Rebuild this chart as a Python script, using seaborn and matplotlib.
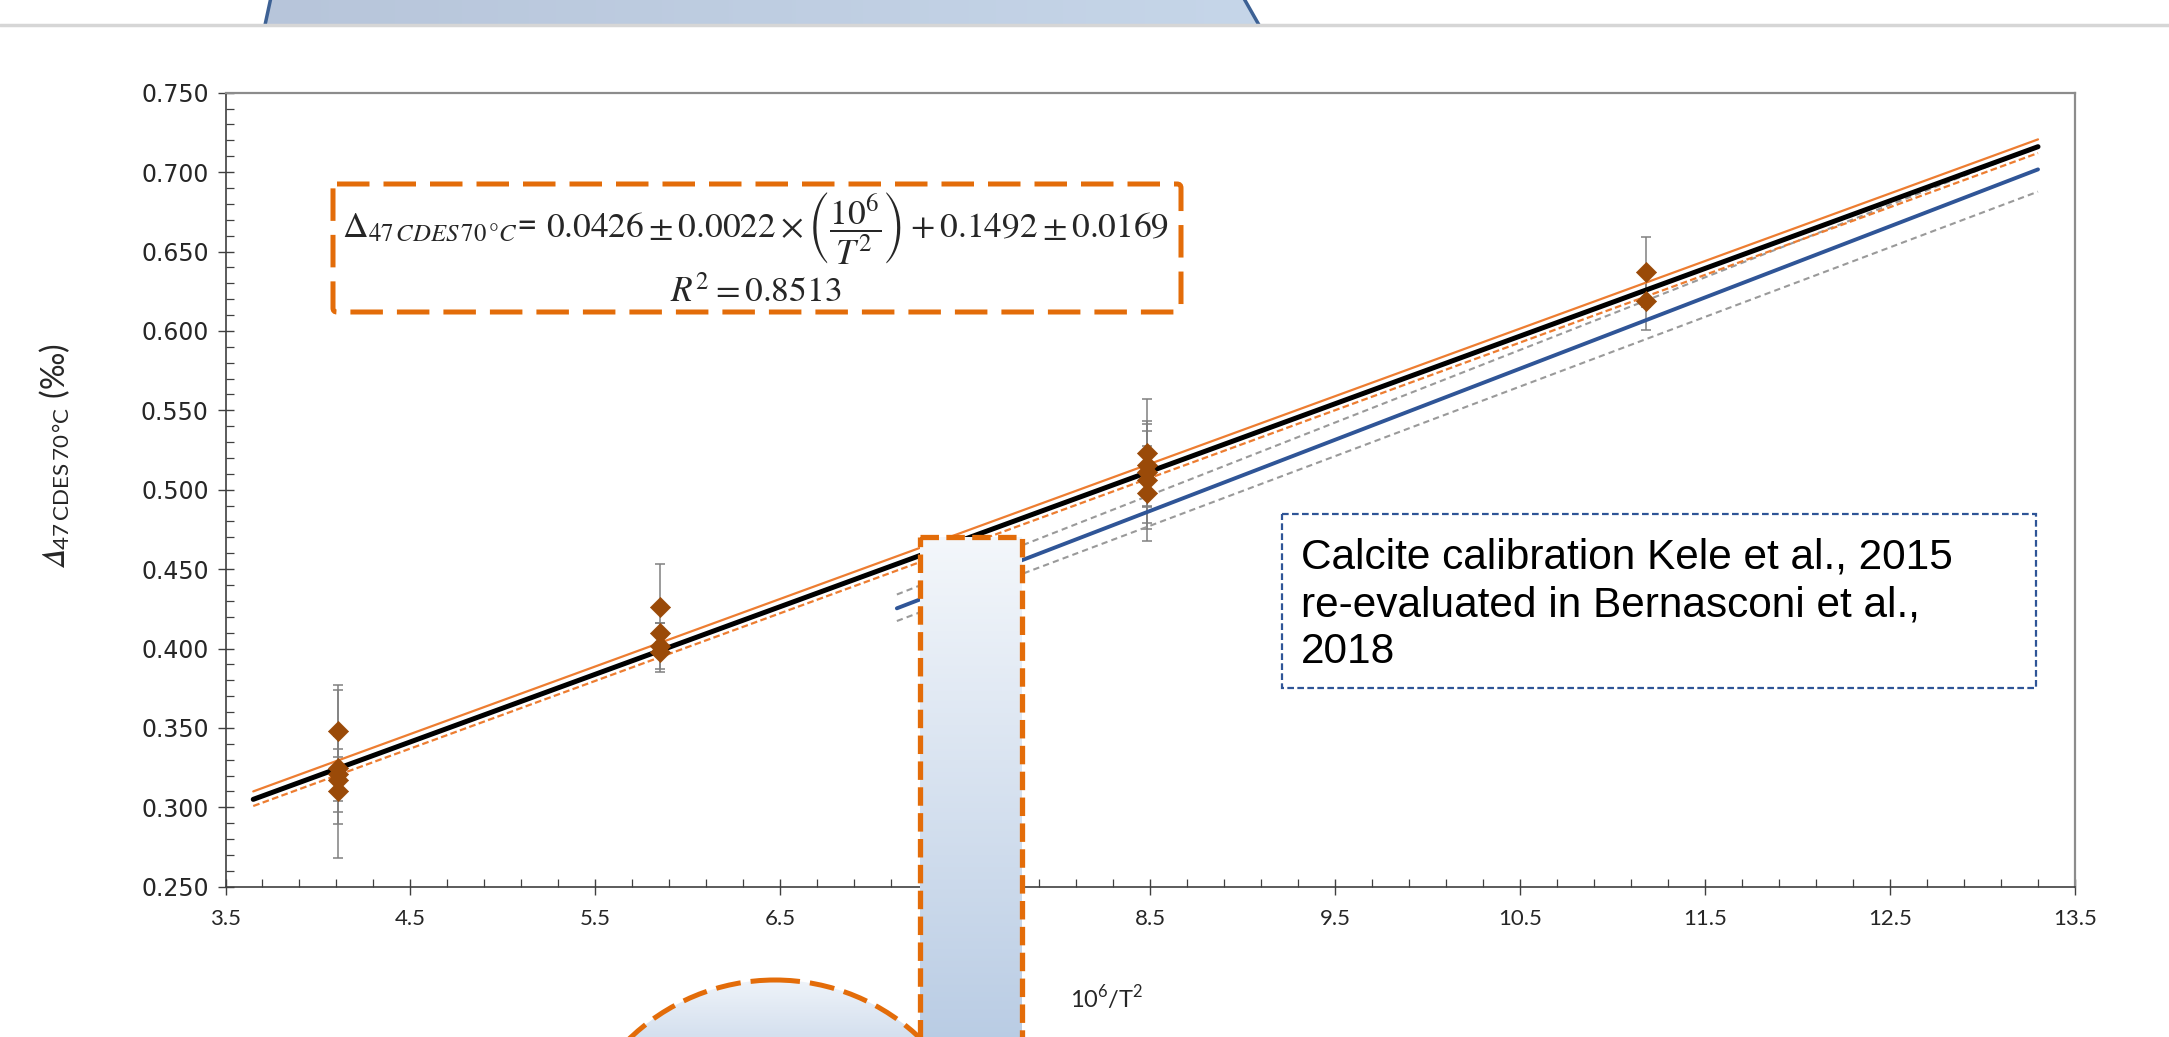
import numpy as np
import matplotlib
matplotlib.use("Agg")
import matplotlib.pyplot as plt
import matplotlib.colors as mcolors
from matplotlib.patches import Rectangle, FancyBboxPatch, Polygon, Circle
from matplotlib.ticker import FixedLocator, MultipleLocator, FormatStrFormatter
import seaborn as sns

# ---- measured samples (10^6/T^2 vs Δ47 CDES 70 °C) ----
x_samples = [4.11, 4.11, 4.11, 4.11, 4.11,
             5.85, 5.85, 5.85, 5.85,
             8.48, 8.48, 8.48, 8.48, 8.48,
             11.18, 11.18]
d47_samples = [0.348, 0.3245, 0.321, 0.317, 0.3105,
               0.4263, 0.410, 0.4016, 0.398,
               0.5233, 0.5155, 0.5113, 0.5061, 0.4977,
               0.6373, 0.6188]
d47_err = [0.029, 0.0205, 0.053, 0.020, 0.021,
           0.027, 0.006, 0.0145, 0.013,
           0.034, 0.026, 0.032, 0.031, 0.030,
           0.022, 0.018]

# ---- regression of this study and its confidence band ----
fit_x = [3.65, 13.3]
fit_y = [0.305, 0.716]
fit_upper_y = [0.310, 0.7206]
fit_lower_y = [0.3008, 0.712]

# ---- Kele et al. 2015 calcite calibration and its band ----
kele_x = [7.13, 13.3]
kele_y = [0.4253, 0.7017]
kele_upper_y = [0.434, 0.716]
kele_lower_y = [0.4173, 0.6877]

x_major = [3.5, 4.5, 5.5, 6.5, 7.5, 8.5, 9.5, 10.5, 11.5, 12.5, 13.5]

W, H = 2169, 1037
sns.set_theme(style="white")
plt.rcParams["font.family"] = ["Lato", "DejaVu Sans"]

fig = plt.figure(figsize=(W / 100, H / 100), dpi=100)
fig.patch.set_facecolor("white")
ax = fig.add_axes([225.5 / W, 1 - 886.7 / H, (2075 - 225.5) / W, (886.7 - 92.7) / H])
ax.set_facecolor("white")

ORANGE = "#ED7D31"
BLUE = "#2F5597"
GREY = "#9A9A9A"
BROWN = "#9A4A08"

ax.errorbar(x_samples, d47_samples, yerr=d47_err, fmt="none", ecolor="#808080",
            elinewidth=1.1, capsize=3.5, capthick=1.1, zorder=2)

sns.lineplot(x=kele_x, y=kele_upper_y, ax=ax, color=GREY, lw=1.5,
             linestyle=(0, (3, 2)), zorder=3)
sns.lineplot(x=kele_x, y=kele_lower_y, ax=ax, color=GREY, lw=1.5,
             linestyle=(0, (3, 2)), zorder=3)
sns.lineplot(x=kele_x, y=kele_y, ax=ax, color=BLUE, lw=2.8, zorder=3)

sns.lineplot(x=fit_x, y=fit_lower_y, ax=ax, color=ORANGE, lw=1.6,
             linestyle=(0, (3, 1.5)), zorder=3)
sns.lineplot(x=fit_x, y=fit_upper_y, ax=ax, color=ORANGE, lw=1.6, zorder=3)
sns.lineplot(x=fit_x, y=fit_y, ax=ax, color="black", lw=3.6, zorder=3)

sns.scatterplot(x=x_samples, y=d47_samples, ax=ax, marker="D", s=105,
                color=BROWN, edgecolor=BROWN, linewidth=0.5, zorder=4)

ax.set_xlim(3.5, 13.5)
ax.set_ylim(0.25, 0.75)
ax.xaxis.set_major_locator(FixedLocator(x_major))
ax.xaxis.set_minor_locator(FixedLocator(np.arange(3.5, 13.51, 0.2)))
ax.yaxis.set_major_locator(MultipleLocator(0.05))
ax.yaxis.set_minor_locator(MultipleLocator(0.01))
ax.xaxis.set_major_formatter(FormatStrFormatter("%.1f"))
ax.yaxis.set_major_formatter(FormatStrFormatter("%.3f"))
ax.tick_params(which="major", direction="inout", length=12, width=1.0,
               color="#404040", labelcolor="#262626", bottom=True, left=True)
ax.tick_params(which="minor", direction="in", length=6, width=0.9,
               color="#404040", bottom=True, left=True)
ax.tick_params(axis="x", which="major", pad=10, labelsize=16)
ax.tick_params(axis="y", which="major", pad=6, labelsize=17)
for lab in ax.get_yticklabels():
    lab.set_family(["DejaVu Sans"])

for side in ("left", "bottom"):
    ax.spines[side].set_color("#404040")
    ax.spines[side].set_linewidth(1.2)
for side in ("top", "right"):
    ax.spines[side].set_color("#8C8C8C")
    ax.spines[side].set_linewidth(1.6)

ax.set_xlabel(r"10$^{\mathregular{6}}$/T$^{\mathregular{2}}$", fontsize=17, color="#262626")
ax.xaxis.set_label_coords((1107 - 225.5) / 1849.5, -(998 - 886.7) / 794)
ax.xaxis.label.set_va("center")
ax.set_ylabel(r"$\mathrm{𝛥}_{\mathregular{47\,CDES\,70\,°C}}$ (‰)", fontsize=23,
              color="#262626", math_fontfamily="stix")
ax.yaxis.set_label_coords((55 - 225.5) / 1849.5, (886.7 - 456) / 794)
ax.yaxis.label.set_va("center")
ax.yaxis.label.set_ha("center")

# ---- slide overlay drawn in pixel space ----
ov = fig.add_axes([0, 0, 1, 1], zorder=10)
ov.axis("off")
ov.patch.set_alpha(0)


def gradient(axis, patch, c0, c1, extent, vertical=True, z=1):
    t = np.linspace(0, 1, 256)
    a = np.array(mcolors.to_rgb(c0))
    b = np.array(mcolors.to_rgb(c1))
    ramp = a[None, :] * (1 - t)[:, None] + b[None, :] * t[:, None]
    img = ramp[:, None, :] if vertical else ramp[None, :, :]
    im = axis.imshow(img, extent=extent, aspect="auto", origin="upper",
                     interpolation="bilinear", zorder=z)
    im.set_clip_path(patch)
    return im


# top banner shape
trap = Polygon([(274, -12), (1238, -12), (1259, 25), (265, 25)], closed=True,
               fc="none", ec="none", transform=ov.transData)
ov.add_patch(trap)
gradient(ov, trap, "#B7C5DA", "#C6D6E9", (260, 1265, 25, -12), vertical=False, z=1)
ov.plot([273, 265], [-12, 25], color="#3D6194", lw=2.5, zorder=2, solid_capstyle="butt")
ov.plot([1238, 1259], [-12, 25], color="#3D6194", lw=2.5, zorder=2, solid_capstyle="butt")
ov.plot([0, W], [25, 25], color="#D6D6D6", lw=2.5, zorder=3)

# equation callout
eq_box = FancyBboxPatch((333, 184), 848, 128, boxstyle="round,pad=0,rounding_size=4",
                        fc="white", ec="#E36C09", lw=3.6, linestyle=(0, (6.5, 2.8)), zorder=4)
ov.add_patch(eq_box)
ov.text(756, 228,
        r"$\Delta_{47\,CDES\,70\,°C}$= $0.0426 \pm 0.0022 \times \left(\dfrac{10^{6}}{T^{2}}\right) + 0.1492 \pm 0.0169$",
        ha="center", va="center", fontsize=25.5, math_fontfamily="stix", zorder=5)
ov.text(756, 291, r"$R^{2} = 0.8513$", ha="center", va="center",
        fontsize=25.5, math_fontfamily="stix", zorder=5)

# calibration note
kele_box = Rectangle((1282, 514), 754, 174, fc="white", ec=BLUE, lw=1.6,
                     linestyle=(0, (3, 1.5)), zorder=4)
ov.add_patch(kele_box)
ov.text(1301, 605, "Calcite calibration Kele et al., 2015\nre-evaluated in Bernasconi et al.,\n2018",
        ha="left", va="center", fontsize=30.5, family=["Liberation Sans"],
        linespacing=1.23, color="black", zorder=5)

# circle and column callouts
circ = Circle((775, 1190), 210, fc="none", ec="none")
ov.add_patch(circ)
gradient(ov, circ, "#F1F5FA", "#D3DFEE", (560, 990, 1040, 975), z=6)
ov.add_patch(Circle((775, 1190), 210, fc="none", ec="#E36C09", lw=3.6,
                    linestyle=(0, (5, 2)), zorder=7))

col = Rectangle((920, 537), 102, 530, fc="none", ec="none")
ov.add_patch(col)
gradient(ov, col, "#F4F7FB", "#B9CCE4", (918, 1024, 1045, 535), z=8)
ov.add_patch(Rectangle((920, 537), 102, 530, fc="none", ec="#E36C09", lw=3.8,
                       linestyle=(0, (3.5, 1.4)), zorder=9))

ov.set_xlim(0, W)
ov.set_ylim(H, 0)

fig.savefig("out.png", dpi=100, facecolor="white")
